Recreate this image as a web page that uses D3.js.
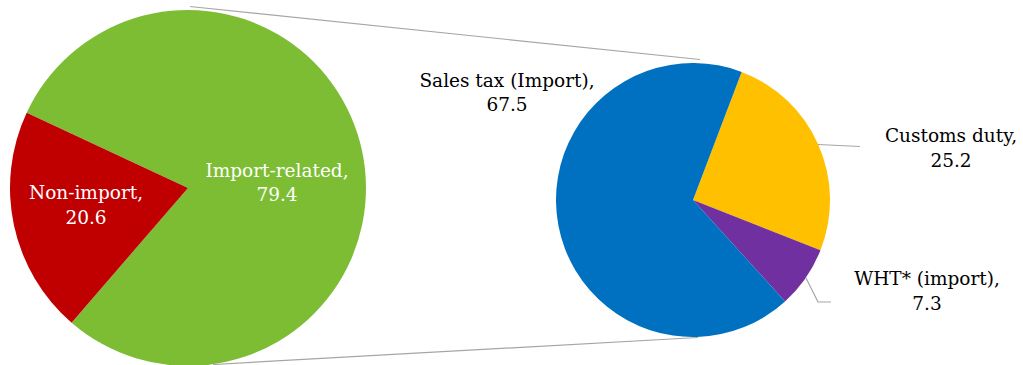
<!DOCTYPE html>
<html>
<head>
<meta charset="utf-8">
<script src="https://cdn.jsdelivr.net/npm/d3@7"></script>
<style>
  html, body { margin: 0; padding: 0; background: #fff; }
  svg { display: block; }
</style>
</head>
<body>
<svg id="chart" width="1023" height="365"></svg>
<script>
// ---- data ----
const mainCategories = ["Import-related", "Non-import"];
const mainValues = [79.4, 20.6];
const mainColors = ["#7dbd34", "#c00000"];

const subCategories = ["Customs duty", "WHT* (import)", "Sales tax (Import)"];
const subValues = [25.2, 7.3, 67.5];
const subColors = ["#ffc000", "#7030a0", "#0070c0"];

// ---- layout ----
const svg = d3.select("#chart");
const deg = Math.PI / 180;
const FONT = "'DejaVu Serif', serif";

const left = { cx: 188, cy: 188, r: 178, start: -65 * deg };
const right = { cx: 693, cy: 200, r: 137, start: 20.8 * deg };

// connector lines (pie-of-pie)
const connectors = [
  [[190, 6.5], [700, 59.5]],
  [[213, 364.5], [698, 337.5]]
];
svg.selectAll("line.conn").data(connectors).join("line")
  .attr("class", "conn")
  .attr("x1", d => d[0][0]).attr("y1", d => d[0][1])
  .attr("x2", d => d[1][0]).attr("y2", d => d[1][1])
  .attr("stroke", "#a6a6a6").attr("stroke-width", 1.2);

function drawPie(cfg, vals, cols, cls) {
  const arc = d3.arc().innerRadius(0).outerRadius(cfg.r);
  const g = svg.append("g").attr("transform", `translate(${cfg.cx},${cfg.cy})`);
  const pieData = d3.pie().value(d => d.v).sort(null)
    .startAngle(cfg.start).endAngle(cfg.start + 2 * Math.PI)(vals.map((v, i) => ({ v, i })));
  g.selectAll("path." + cls).data(pieData).join("path")
    .attr("class", cls)
    .attr("d", arc)
    .attr("fill", d => cols[d.data.i]);
}

drawPie(left, mainValues, mainColors, "main");
drawPie(right, subValues, subColors, "sub");

// leader lines
const leaders = [
  [[818, 144.5], [860, 146.5]],
  [[806, 278], [818, 302], [831, 302]]
];
svg.selectAll("path.leader").data(leaders).join("path")
  .attr("class", "leader")
  .attr("d", d => d3.line()(d))
  .attr("fill", "none").attr("stroke", "#a6a6a6").attr("stroke-width", 1.2);

// labels
const labels = [
  { name: mainCategories[0], val: mainValues[0], x: 277, y: 176.5, color: "#fff" },
  { name: mainCategories[1], val: mainValues[1], x: 86, y: 199, color: "#fff" },
  { name: subCategories[2], val: subValues[2], x: 507, y: 86.5, color: "#000" },
  { name: subCategories[0], val: subValues[0], x: 951, y: 142, color: "#000" },
  { name: subCategories[1], val: subValues[1], x: 927, y: 285, color: "#000" }
];
const lg = svg.selectAll("text.lbl").data(labels).join("text")
  .attr("class", "lbl")
  .attr("font-family", FONT)
  .attr("font-size", 18.5)
  .attr("text-anchor", "middle")
  .attr("fill", d => d.color);
lg.append("tspan").attr("x", d => d.x).attr("y", d => d.y).text(d => d.name + ",");
lg.append("tspan").attr("x", d => d.x).attr("y", d => d.y + 24.5).text(d => d3.format(".1f")(d.val));
</script>
</body>
</html>
